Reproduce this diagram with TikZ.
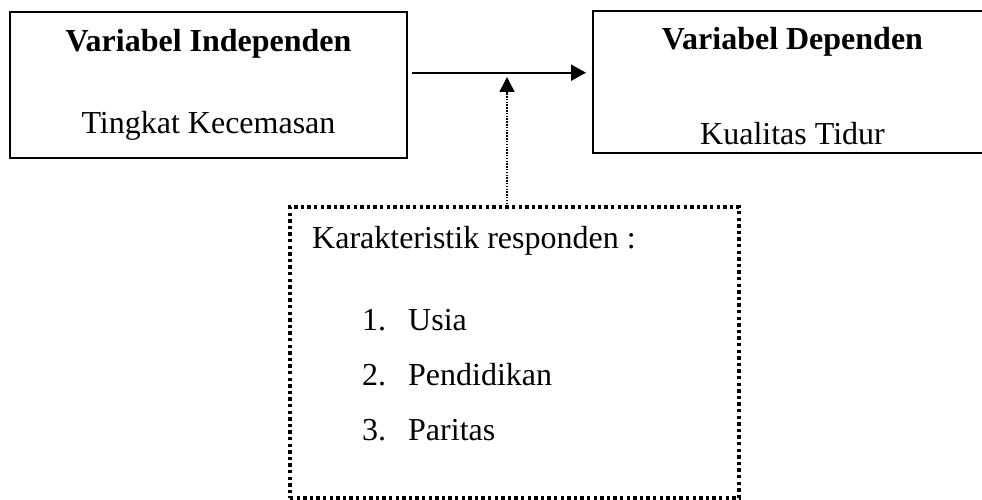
\documentclass[tikz,border=0pt]{standalone}
\usepackage{fontspec}
\setmainfont{Liberation Serif}
\usetikzlibrary{arrows.meta}
\begin{document}
\begin{tikzpicture}[x=1pt,y=-1pt,
  every node/.style={font=\fontsize{32}{38}\selectfont, inner sep=0pt},
  varbox/.style={draw, line width=1.5pt, rectangle},
  dotbox/.style={draw, line width=3.4pt, dash pattern=on 3.4pt off 3.2pt},
  txt/.style={anchor=base},
  lefttxt/.style={anchor=base west},
  arr/.style={line width=2pt, -{Triangle[length=15pt,width=16pt]}},
  dotarr/.style={line width=1.6pt, dash pattern=on 1.5pt off 1.3pt, -{Triangle[length=15pt,width=15pt]}}
]
\useasboundingbox (0,0) rectangle (982,500);
\clip (0,0) rectangle (982,500);
% boxes
\node[varbox, minimum width=397pt, minimum height=146pt] (ind) at (208.5,85) {};
\node[varbox, minimum width=399pt, minimum height=142pt] (dep) at (792.5,82) {};
\node[dotbox, minimum width=449pt, minimum height=291pt] (kar) at (514.5,352.5) {};
% texts
\node[txt] (t1) at (208.5,52) {\textbf{Variabel Independen}};
\node[txt] (t2) at (208.5,133) {Tingkat Kecemasan};
\node[txt] (t3) at (792.5,50) {\textbf{Variabel Dependen}};
\node[txt] (t4) at (792.5,144) {Kualitas Tidur};
\node[lefttxt] (k0) at (312,248) {Karakteristik responden :};
\node[lefttxt] (n1) at (362,330) {1.};
\node[lefttxt] (i1) at (408,330) {Usia};
\node[lefttxt] (n2) at (362,385) {2.};
\node[lefttxt] (i2) at (408,385) {Pendidikan};
\node[lefttxt] (n3) at (362,440) {3.};
\node[lefttxt] (i3) at (408,440) {Paritas};
% connectors
\coordinate (a0) at (412,72.7);
\coordinate (a1) at (586,72.7);
\draw[arr] (a0) -- (a1);
\coordinate (m0) at (507,204);
\coordinate (m1) at (507,77);
\draw[dotarr] (m0) -- (m1);
\end{tikzpicture}
\end{document}
